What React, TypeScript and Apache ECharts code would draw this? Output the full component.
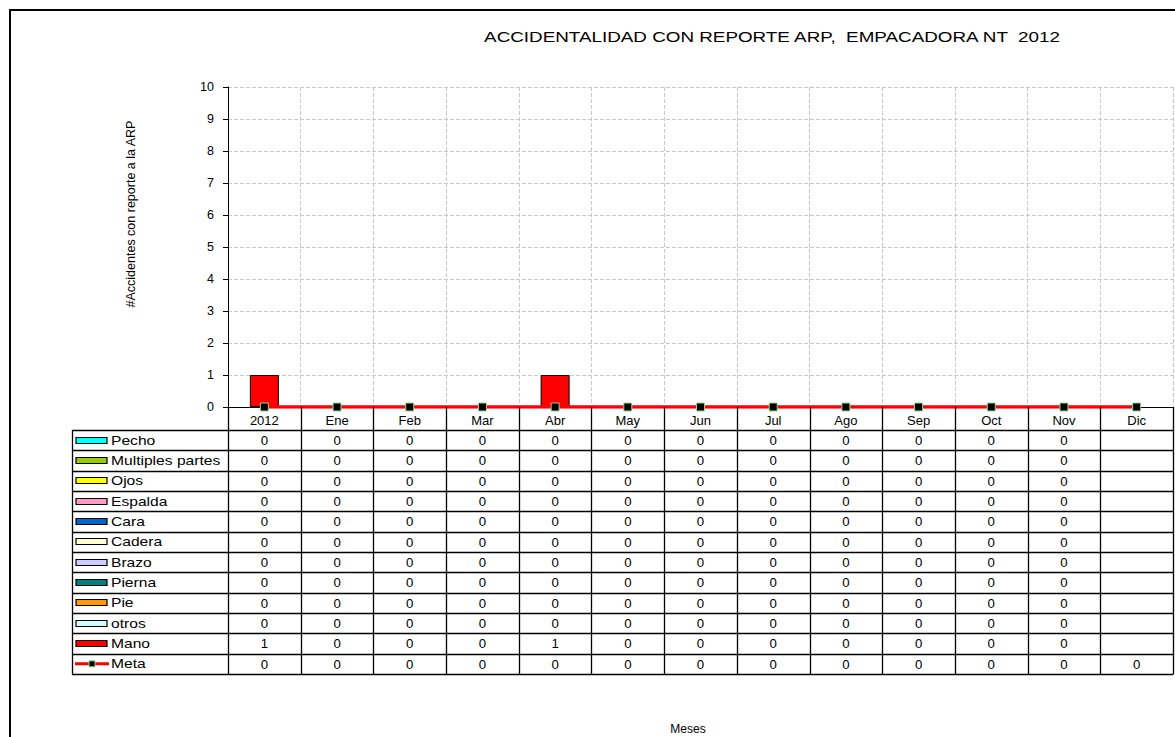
import React, { useEffect, useRef } from "react";
import * as echarts from "echarts";

const categories = ["2012", "Ene", "Feb", "Mar", "Abr", "May", "Jun", "Jul", "Ago", "Sep", "Oct", "Nov", "Dic"];

const pecho = [0, 0, 0, 0, 0, 0, 0, 0, 0, 0, 0, 0, null];
const multiples = [0, 0, 0, 0, 0, 0, 0, 0, 0, 0, 0, 0, null];
const ojos = [0, 0, 0, 0, 0, 0, 0, 0, 0, 0, 0, 0, null];
const espalda = [0, 0, 0, 0, 0, 0, 0, 0, 0, 0, 0, 0, null];
const cara = [0, 0, 0, 0, 0, 0, 0, 0, 0, 0, 0, 0, null];
const cadera = [0, 0, 0, 0, 0, 0, 0, 0, 0, 0, 0, 0, null];
const brazo = [0, 0, 0, 0, 0, 0, 0, 0, 0, 0, 0, 0, null];
const pierna = [0, 0, 0, 0, 0, 0, 0, 0, 0, 0, 0, 0, null];
const pie = [0, 0, 0, 0, 0, 0, 0, 0, 0, 0, 0, 0, null];
const otros = [0, 0, 0, 0, 0, 0, 0, 0, 0, 0, 0, 0, null];
const mano = [1, 0, 0, 0, 1, 0, 0, 0, 0, 0, 0, 0, null];
const meta = [0, 0, 0, 0, 0, 0, 0, 0, 0, 0, 0, 0, 0];

const barSeriesDefs = [
  { name: "Pecho", data: pecho, color: "#00FFFF" },
  { name: "Multiples partes", data: multiples, color: "#99CC00" },
  { name: "Ojos", data: ojos, color: "#FFFF00" },
  { name: "Espalda", data: espalda, color: "#FF99CC" },
  { name: "Cara", data: cara, color: "#0066CC" },
  { name: "Cadera", data: cadera, color: "#FFFFCC" },
  { name: "Brazo", data: brazo, color: "#CCCCFF" },
  { name: "Pierna", data: pierna, color: "#008080" },
  { name: "Pie", data: pie, color: "#FF9900" },
  { name: "otros", data: otros, color: "#CCFFFF" },
  { name: "Mano", data: mano, color: "#FF0000" },
];
const metaName = "Meta";

const yTicks = { min: 0, max: 10, interval: 1 };

const TITLE = "ACCIDENTALIDAD CON REPORTE ARP,  EMPACADORA NT  2012";
const Y_NAME = "#Accidentes con reporte a la ARP";
const X_NAME = "Meses";

export default function App() {
  const ref = useRef<HTMLDivElement>(null);
  useEffect(() => {
    if (!ref.current) return;
    const chart = echarts.init(ref.current, null, { renderer: "svg" });
    const FONT = "Liberation Sans, Arial, sans-serif";
    const GL = 228, GR = 1173, GT = 87, GB = 407;
    const colW = (GR - GL) / categories.length;
    const TABLE_TOP = 430, TABLE_BOT = 674, TABLE_LEFT = 72;
    const rows = [...barSeriesDefs.map((d) => ({ name: d.name, data: d.data as (number | null)[], color: d.color, line: false })), { name: metaName, data: meta as (number | null)[], color: "#FF0000", line: true }];
    const rowH = (TABLE_BOT - TABLE_TOP) / rows.length;

    const graphics: any[] = [];
    graphics.push({ type: "rect", shape: { x: 10, y: 10, width: 1200, height: 800 }, style: { fill: "none", stroke: "#000", lineWidth: 2 }, silent: true });
    graphics.push({
      type: "text", x: 772, y: 37, scaleX: 1.3,
      style: { text: TITLE, font: `14.5px ${FONT}`, fill: "#000", textAlign: "center", textVerticalAlign: "middle" },
    });
    graphics.push({
      type: "text", x: 131, y: 214, rotation: Math.PI / 2,
      style: { text: Y_NAME, font: `12.5px ${FONT}`, fill: "#000", textAlign: "center", textVerticalAlign: "middle" },
    });
    graphics.push({
      type: "text", x: 688, y: 729,
      style: { text: X_NAME, font: `12px ${FONT}`, fill: "#000", textAlign: "center", textVerticalAlign: "middle" },
    });
    // horizontal table lines
    for (let k = 0; k <= rows.length; k++) {
      const y = Math.round(TABLE_TOP + k * rowH) + 0.5;
      graphics.push({ type: "line", shape: { x1: TABLE_LEFT, y1: y, x2: GR, y2: y }, style: { stroke: "#000", lineWidth: 1.3 }, z: 10 });
    }
    // vertical table lines
    graphics.push({ type: "line", shape: { x1: TABLE_LEFT + 0.5, y1: TABLE_TOP, x2: TABLE_LEFT + 0.5, y2: TABLE_BOT + 0.5 }, style: { stroke: "#000", lineWidth: 1.3 }, z: 10 });
    for (let i = 0; i <= categories.length; i++) {
      const x = Math.round(GL + i * colW) + 0.5;
      graphics.push({ type: "line", shape: { x1: x, y1: GB, x2: x, y2: TABLE_BOT + 0.5 }, style: { stroke: "#000", lineWidth: 1.3 }, z: 10 });
    }
    rows.forEach((r, k) => {
      const cy = TABLE_TOP + (k + 0.5) * rowH;
      if (r.line) {
        graphics.push({ type: "line", shape: { x1: 75, y1: cy, x2: 109, y2: cy }, style: { stroke: "#FF0000", lineWidth: 3 }, z: 10 });
        graphics.push({ type: "rect", shape: { x: 89, y: cy - 3, width: 6, height: 6 }, style: { fill: "#000", stroke: "#8fdc8f", lineWidth: 1 }, z: 11 });
      } else {
        graphics.push({ type: "rect", shape: { x: 76, y: Math.round(cy - 3.5) + 0.5, width: 31, height: 6 }, style: { fill: r.color, stroke: "#000", lineWidth: 1.2 }, z: 10 });
      }
      graphics.push({
        type: "text", x: 111, y: cy, scaleX: 1.25, z: 10,
        style: { text: r.name, font: `12.5px ${FONT}`, fill: "#000", textAlign: "left", textVerticalAlign: "middle" },
      });
      r.data.forEach((v, i) => {
        if (v === null || v === undefined) return;
        graphics.push({
          type: "text", x: GL + (i + 0.5) * colW, y: cy + 1, scaleX: 1.1, z: 10,
          style: { text: String(v), font: `12px ${FONT}`, fill: "#000", textAlign: "center", textVerticalAlign: "middle" },
        });
      });
    });

    const series: any[] = barSeriesDefs.map((d) => ({
      name: d.name,
      type: "bar",
      stack: "total",
      barWidth: 29,
      data: d.data,
      itemStyle: { color: d.color, borderColor: "#000", borderWidth: d.name === "Mano" ? 1 : 0 },
      z: 2,
    }));
    series.push({
      name: metaName,
      type: "line",
      data: meta,
      symbol: "rect",
      symbolSize: 8,
      lineStyle: { color: "#FF0000", width: 3.5 },
      itemStyle: { color: "#000", borderColor: "#8fdc8f", borderWidth: 1 },
      z: 5,
    });

    chart.setOption({
      animation: false,
      backgroundColor: "#fff",
      textStyle: { fontFamily: FONT },
      grid: { left: GL, right: 1175 - GR, top: GT, bottom: 737 - GB, containLabel: false },
      xAxis: {
        type: "category",
        data: categories,
        boundaryGap: true,
        axisLine: { show: true, lineStyle: { color: "#000", width: 1 } },
        axisTick: { show: false },
        axisLabel: { color: "#000", fontSize: 13, margin: 7, fontFamily: FONT, interval: 0 },
        splitLine: { show: true, lineStyle: { color: "#c8c8c8", type: "dashed", width: 1 } },
      },
      yAxis: {
        type: "value",
        min: yTicks.min,
        max: yTicks.max,
        interval: yTicks.interval,
        axisLine: { show: true, lineStyle: { color: "#000", width: 1 } },
        axisTick: { show: true, inside: false, length: 5, lineStyle: { color: "#000" } },
        axisLabel: { color: "#000", fontSize: 12.5, margin: 14, fontFamily: FONT },
        splitLine: { show: true, lineStyle: { color: "#c8c8c8", type: "dashed", width: 1 } },
      },
      series,
      graphic: graphics,
    });
    return () => chart.dispose();
  }, []);
  return <div ref={ref} style={{ position: "absolute", left: 0, top: 0, width: 1175, height: 737 }} />;
}
